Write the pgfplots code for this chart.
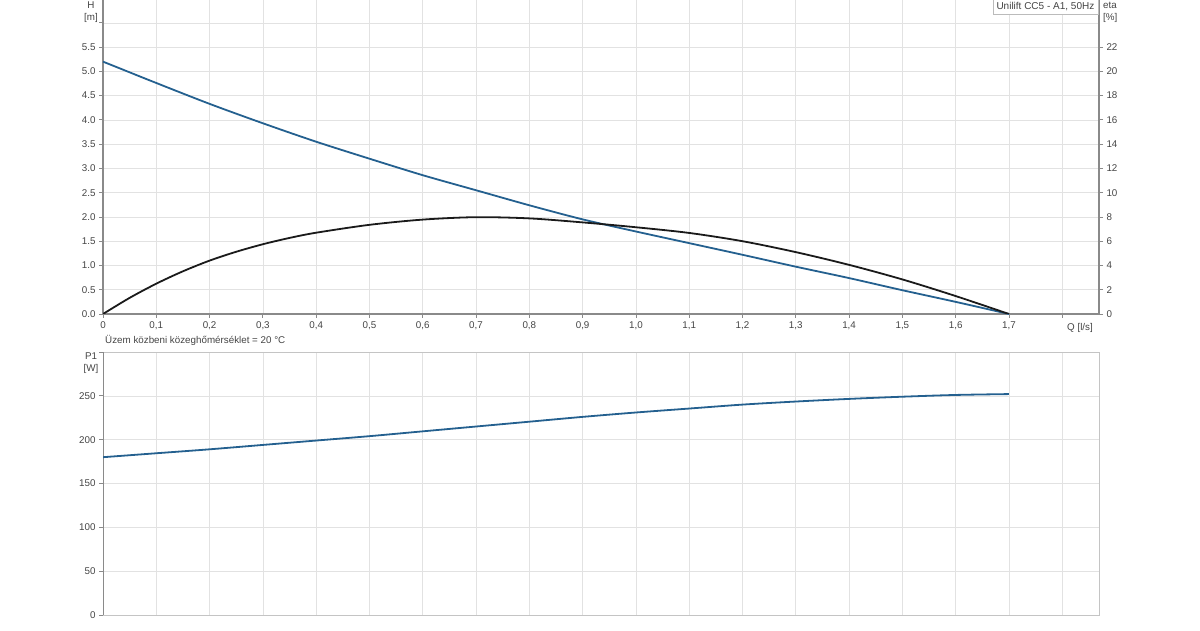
\documentclass[border=0pt]{standalone}
\usepackage{fontspec}
\setmainfont{Liberation Sans}
\usepackage{pgfplots}
\pgfplotsset{compat=1.18}
\definecolor{hblue}{HTML}{24608F}
\definecolor{ecol}{HTML}{1A1A1A}
\definecolor{txt}{HTML}{444444}
\definecolor{axc}{HTML}{8A8A8A}
\definecolor{gridc}{HTML}{E2E2E2}
\pgfplotsset{
  common/.style={
    scale only axis, width=996pt, xmin=0, xmax=1.869,
    tick label style={font=\fontsize{9.8}{10}\selectfont, text=txt},
    /pgf/number format/assume math mode=true,
    tick style={axc, line width=0.8pt}, tick align=outside, major tick length=4pt,
    major grid style={gridc, line width=0.6pt},
  }
}
\begin{document}
\begin{tikzpicture}[x=1pt,y=1pt]
\path[use as bounding box] (0,0) rectangle (1200,630);
% ---------- top axis: H ----------
\begin{axis}[common, at={(103pt,316pt)}, anchor=south west, height=314pt,
  ymin=0, ymax=6.47,
  axis x line*=bottom, axis y line*=left,
  axis line style={axc, line width=1.2pt},
  xtick={0,0.1,0.2,0.3,0.4,0.5,0.6,0.7,0.8,0.9,1.0,1.1,1.2,1.3,1.4,1.5,1.6,1.7,1.8},
  xticklabels={0,{0,1},{0,2},{0,3},{0,4},{0,5},{0,6},{0,7},{0,8},{0,9},{1,0},{1,1},{1,2},{1,3},{1,4},{1,5},{1,6},{1,7},{}},
  ytick={0,0.5,1,1.5,2,2.5,3,3.5,4,4.5,5,5.5,6},
  yticklabels={0.0,0.5,1.0,1.5,2.0,2.5,3.0,3.5,4.0,4.5,5.0,5.5,{}},
  grid=major, clip=false]
\addplot[hblue, line width=1.8pt, smooth] coordinates {
(0,5.2)(0.1,4.76)(0.2,4.33)(0.3,3.93)(0.4,3.55)(0.5,3.2)(0.6,2.86)(0.7,2.55)(0.8,2.24)(0.9,1.95)
(1.0,1.70)(1.1,1.46)(1.2,1.22)(1.3,0.975)(1.4,0.74)(1.5,0.49)(1.6,0.25)(1.7,0)};
\end{axis}
% ---------- top axis: eta ----------
\begin{axis}[common, at={(103pt,316pt)}, anchor=south west, height=314pt,
  ymin=0, ymax=25.88,
  axis x line=none, axis y line*=right,
  axis line style={axc, line width=1.2pt},
  ytick={0,2,4,6,8,10,12,14,16,18,20,22},
  yticklabels={0,2,4,6,8,10,12,14,16,18,20,22}]
\addplot[ecol, line width=1.8pt, smooth] coordinates {
(0,0)(0.05,1.33)(0.1,2.5)(0.15,3.52)(0.2,4.4)(0.25,5.13)(0.3,5.75)(0.35,6.27)(0.4,6.7)
(0.5,7.35)(0.6,7.78)(0.7,7.98)(0.8,7.88)(0.9,7.55)
(1.0,7.15)(1.1,6.68)(1.2,6.0)(1.3,5.1)(1.4,4.05)(1.5,2.85)(1.6,1.48)(1.7,0)};
\end{axis}
% ---------- bottom axis: P1 ----------
\begin{axis}[common, at={(103pt,15pt)}, anchor=south west, height=263pt,
  ymin=0, ymax=300,
  axis line style={gridc!70!gray, line width=1pt},
  xtick={0,0.1,0.2,0.3,0.4,0.5,0.6,0.7,0.8,0.9,1.0,1.1,1.2,1.3,1.4,1.5,1.6,1.7,1.8},
  xticklabels={}, xtick pos=bottom, xtick style={draw=none},
  ytick={0,50,100,150,200,250,300},
  yticklabels={0,50,100,150,200,250,{}}, ytick pos=left,
  grid=major]
\draw[axc, line width=1.2pt] (rel axis cs:0,0) -- (rel axis cs:0,1);
\addplot[hblue, line width=1.8pt, smooth] coordinates {
(0,180)(0.1,184.5)(0.2,189)(0.3,194)(0.4,199)(0.5,204)(0.6,209.5)(0.7,215)(0.8,220.5)(0.9,226)
(1.0,231)(1.1,235.5)(1.2,240)(1.3,243.5)(1.4,246.5)(1.5,249)(1.6,251)(1.7,252)};
\end{axis}
% ---------- labels ----------
\begin{scope}[every node/.style={font=\fontsize{9.8}{10}\selectfont, text=txt, inner sep=0pt}]
\node at (91,625) {H};
\node at (91,612) {[m]};
\node[anchor=west] at (1103,625) {eta};
\node[anchor=west] at (1103,612) {[\%]};
\node at (1080,302) {Q [l/s]};
\node[anchor=west] at (105,290) {Üzem közbeni közeghőmérséklet = 20 °C};
\node at (91,274) {P1};
\node at (91,261) {[W]};
\node[draw=gridc!60!gray, fill=white, inner xsep=3.5pt, inner ysep=3pt, anchor=north east, font=\fontsize{10}{11}\selectfont] at (1098,631) {Unilift CC5 - A1, 50Hz};
\end{scope}
\end{tikzpicture}
\end{document}
